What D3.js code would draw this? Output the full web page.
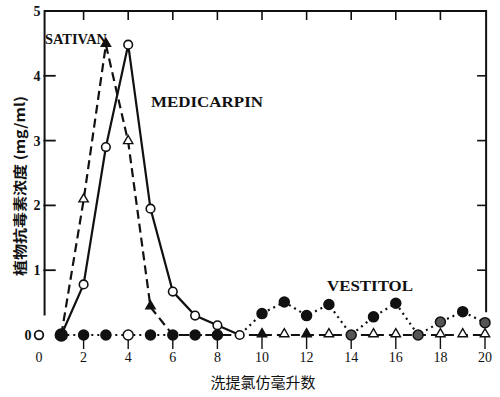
<!DOCTYPE html>
<html>
<head>
<meta charset="utf-8">
<script src="https://cdn.jsdelivr.net/npm/d3@7"></script>
<style>
  body { margin: 0; background: #fff; }
  text { fill: #111; }
</style>
</head>
<body>
<svg id="chart" width="500" height="397"></svg>
<script>
// 洗提氯仿毫升数 (ml), 1..20
const fractions = d3.range(1, 21);

// 植物抗毒素浓度 (mg/ml)
const sativan =    [0, 2.08, 4.48, 2.98, 0.43, 0, 0, 0, 0, 0, 0, 0, 0, 0, 0, 0, 0, 0, 0, 0];
const medicarpin = [0, 0.78, 2.9, 4.48, 1.95, 0.67, 0.3, 0.15, 0];
const vestitol =   [0, 0, 0, 0, 0, 0, 0, 0, 0, 0.33, 0.51, 0.3, 0.47, 0, 0.28, 0.49, 0, 0.2, 0.36, 0.19];

// which sativan points are drawn as filled triangles
const sativanFilled = [3, 5, 10, 12];

const xTicks = [2, 4, 6, 8, 10, 12, 14, 16, 18, 20];
const xTopTicks = [2, 4, 6, 8, 10, 12, 14, 16, 18];
const yTicks = [1, 2, 3, 4, 5];
const yRightTicks = [1, 2, 3, 4];

const svg = d3.select("#chart");

const x = d3.scaleLinear().domain([0, 20]).range([39, 485]);
const y = d3.scaleLinear().domain([0, 5]).range([335, 11]);

const serif = "'Liberation Serif', 'DejaVu Serif', serif";
const cjk = "'Noto Sans CJK SC', sans-serif";

// frame: left axis, top, right
svg.append("path")
    .attr("d", `M${x(0.25)},${y(0.3)} V${y(5)} H${x(20.05)} V${y(0.35)}`)
    .attr("fill", "none")
    .attr("stroke", "#111")
    .attr("stroke-width", 2);

// left ticks (inward)
svg.selectAll("line.ytick")
    .data(yTicks.filter(d => d < 5))
    .enter().append("line")
    .attr("x1", x(0.2)).attr("x2", x(0.75))
    .attr("y1", d => y(d)).attr("y2", d => y(d))
    .attr("stroke", "#111").attr("stroke-width", 1.8);

svg.selectAll("text.ylab")
    .data([0].concat(yTicks))
    .enter().append("text")
    .attr("x", d => d === 0 ? 28 : 37)
    .attr("y", d => y(d) + 5)
    .attr("text-anchor", "middle")
    .attr("font-family", serif)
    .attr("font-weight", "bold")
    .attr("font-size", 14)
    .text(d => d);

// top ticks (downward)
svg.selectAll("line.ttick")
    .data(xTopTicks)
    .enter().append("line")
    .attr("x1", d => x(d)).attr("x2", d => x(d))
    .attr("y1", y(5)).attr("y2", y(5) + 9)
    .attr("stroke", "#111").attr("stroke-width", 1.6);

// right ticks (inward)
svg.selectAll("line.rtick")
    .data(yRightTicks)
    .enter().append("line")
    .attr("x1", x(20.05)).attr("x2", x(20.05) - 9)
    .attr("y1", d => y(d)).attr("y2", d => y(d))
    .attr("stroke", "#111").attr("stroke-width", 1.6);

// bottom ticks below the baseline
svg.selectAll("line.btick")
    .data(xTicks)
    .enter().append("line")
    .attr("x1", d => x(d)).attr("x2", d => x(d))
    .attr("y1", y(0) + 2).attr("y2", y(0) + 14)
    .attr("stroke", "#111").attr("stroke-width", 1.4);

svg.selectAll("text.xlab")
    .data([0].concat(xTicks))
    .enter().append("text")
    .attr("x", d => x(d))
    .attr("y", 362)
    .attr("text-anchor", "middle")
    .attr("font-family", serif)
    .attr("font-size", 14)
    .text(d => d);

// lines
const line = d3.line().x(d => x(d[0])).y(d => y(d[1]));
const pts = vals => vals.map((v, i) => [fractions[i], v]);

svg.append("path")
    .datum(pts(vestitol))
    .attr("d", line)
    .attr("fill", "none").attr("stroke", "#111")
    .attr("stroke-width", 2.2)
    .attr("stroke-dasharray", "2,4");

svg.append("path")
    .datum(pts(sativan))
    .attr("d", line)
    .attr("fill", "none").attr("stroke", "#111")
    .attr("stroke-width", 2.2)
    .attr("stroke-dasharray", "9,5");

svg.append("path")
    .datum(pts(medicarpin))
    .attr("d", line)
    .attr("fill", "none").attr("stroke", "#111")
    .attr("stroke-width", 2.2);

// markers
const tri = d3.symbol().type(d3.symbolTriangle).size(38);

svg.selectAll("path.sat")
    .data(pts(sativan).filter(d => d[0] !== 1 && (d[0] < 6 || d[0] > 9) && d[0] !== 14 && d[0] !== 17))
    .enter().append("path")
    .attr("d", tri)
    .attr("transform", d => `translate(${x(d[0])},${y(d[1]) - 1})`)
    .attr("fill", d => sativanFilled.includes(d[0]) ? "#111" : "#fff")
    .attr("stroke", "#111").attr("stroke-width", 1.4);

svg.selectAll("circle.ves")
    .data(pts(vestitol).filter(d => d[0] !== 9))
    .enter().append("circle")
    .attr("cx", d => x(d[0])).attr("cy", d => y(d[1]))
    .attr("r", d => d[0] === 1 ? 6 : 5)
    .attr("fill", d => d[0] === 4 ? "#fff" : (d[0] === 14 || d[0] === 17 || d[0] === 18 || d[0] === 20 ? "#555" : "#111"))
    .attr("stroke", "#111").attr("stroke-width", 1.5);

svg.selectAll("circle.med")
    .data(pts(medicarpin).filter(d => d[0] !== 1))
    .enter().append("circle")
    .attr("cx", d => x(d[0])).attr("cy", d => y(d[1]))
    .attr("r", 4.3)
    .attr("fill", "#fff")
    .attr("stroke", "#111").attr("stroke-width", 1.6);

// open circle by the zero label
svg.append("circle")
    .attr("cx", x(0)).attr("cy", y(0))
    .attr("r", 4.3)
    .attr("fill", "#fff")
    .attr("stroke", "#111").attr("stroke-width", 1.8);

// series labels
const label = (txt, x0, yb, w) => svg.append("text")
    .attr("x", x0).attr("y", yb)
    .attr("font-family", serif)
    .attr("font-weight", "bold")
    .attr("font-size", 14)
    .attr("textLength", w)
    .attr("lengthAdjust", "spacingAndGlyphs")
    .text(txt);

label("SATIVAN", 45, 44, 62);
label("MEDICARPIN", 151, 107, 112);
label("VESTITOL", 327, 291, 86);

// axis titles
svg.append("text")
    .attr("transform", "translate(25,186) rotate(-90)")
    .attr("text-anchor", "middle")
    .attr("font-family", cjk)
    .attr("font-weight", "bold")
    .attr("font-size", 14)
    .attr("textLength", 180)
    .attr("lengthAdjust", "spacingAndGlyphs")
    .text("植物抗毒素浓度 (mg/ml)");

svg.append("text")
    .attr("x", 263).attr("y", 388)
    .attr("text-anchor", "middle")
    .attr("font-family", cjk)
    .attr("font-size", 15)
    .text("洗提氯仿毫升数");
</script>
</body>
</html>
